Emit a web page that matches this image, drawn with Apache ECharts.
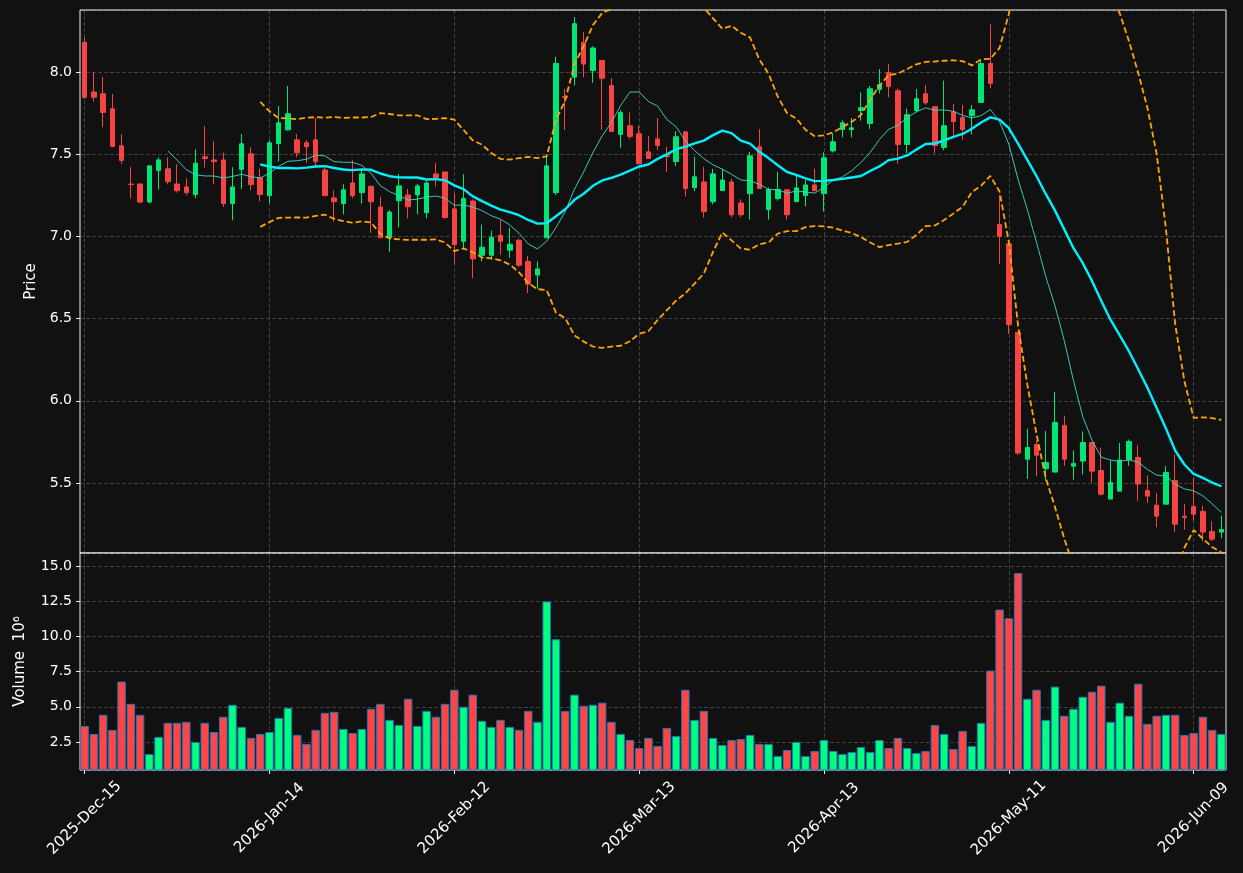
<!DOCTYPE html>
<html>
<head>
<meta charset="utf-8">
<title>K线图</title>
<script src="https://cdn.jsdelivr.net/npm/echarts@6.0.0/dist/echarts.min.js"></script>
<style>
  html, body { margin: 0; padding: 0; background: #111111; }
  #chart { width: 1243px; height: 873px; }
</style>
</head>
<body>
<div id="chart"></div>
<script>
// 交易日（跳过周末和休市日）
const startDay = "2025-12-15";
const holidays = ["2025-12-25", "2026-01-01", "2026-01-19", "2026-02-16", "2026-04-03", "2026-05-25"];
const monthNames = ["Jan", "Feb", "Mar", "Apr", "May", "Jun", "Jul", "Aug", "Sep", "Oct", "Nov", "Dec"];

// OHLC 数据
const opens = [
  8.180, 7.878, 7.868, 7.776, 7.551, 7.318, 7.319, 7.209, 7.400, 7.411,
  7.319, 7.301, 7.254, 7.484, 7.465, 7.465, 7.199, 7.407, 7.502, 7.356,
  7.248, 7.565, 7.648, 7.587, 7.569, 7.587, 7.404, 7.234, 7.199, 7.325,
  7.266, 7.305, 7.179, 6.992, 7.217, 7.252, 7.252, 7.144, 7.380, 7.392,
  7.167, 6.970, 7.215, 6.885, 6.885, 7.007, 6.916, 6.976, 6.848, 6.765,
  6.991, 7.266, 7.850, 7.968, 8.180, 8.009, 8.070, 7.918, 7.620, 7.673,
  7.624, 7.514, 7.593, 7.490, 7.455, 7.636, 7.297, 7.331, 7.211, 7.278,
  7.331, 7.203, 7.260, 7.545, 7.163, 7.230, 7.283, 7.211, 7.248, 7.313,
  7.260, 7.520, 7.650, 7.650, 7.766, 7.687, 7.894, 7.996, 7.886, 7.559,
  7.766, 7.868, 7.789, 7.541, 7.758, 7.722, 7.734, 7.815, 8.051, 7.072,
  6.955, 6.416, 5.645, 5.734, 5.586, 5.566, 5.850, 5.602, 5.633, 5.746,
  5.576, 5.402, 5.450, 5.641, 5.655, 5.454, 5.365, 5.371, 5.515, 5.298,
  5.357, 5.327, 5.205, 5.201
];
const highs = [
  8.210, 8.000, 7.970, 7.866, 7.622, 7.423, 7.319, 7.429, 7.480, 7.480,
  7.439, 7.354, 7.530, 7.671, 7.579, 7.510, 7.421, 7.622, 7.543, 7.411,
  7.585, 7.793, 7.915, 7.622, 7.587, 7.720, 7.419, 7.280, 7.317, 7.463,
  7.409, 7.305, 7.240, 7.161, 7.380, 7.289, 7.319, 7.337, 7.447, 7.392,
  7.263, 7.378, 7.225, 7.072, 7.035, 7.103, 7.052, 6.987, 6.882, 6.848,
  7.500, 8.093, 7.897, 8.335, 8.243, 8.156, 8.070, 7.962, 7.769, 7.753,
  7.673, 7.612, 7.720, 7.545, 7.640, 7.636, 7.484, 7.423, 7.411, 7.411,
  7.350, 7.226, 7.514, 7.652, 7.297, 7.392, 7.285, 7.370, 7.343, 7.411,
  7.512, 7.626, 7.707, 7.720, 7.876, 7.915, 8.018, 8.049, 7.900, 7.778,
  7.896, 7.921, 7.789, 7.947, 7.807, 7.799, 7.799, 8.069, 8.290, 7.250,
  6.975, 6.416, 5.830, 5.759, 5.817, 6.055, 5.909, 5.698, 5.813, 5.746,
  5.714, 5.639, 5.744, 5.765, 5.732, 5.546, 5.440, 5.604, 5.673, 5.373,
  5.533, 5.361, 5.266, 5.300
];
const lows = [
  7.835, 7.821, 7.665, 7.545, 7.439, 7.232, 7.201, 7.201, 7.285, 7.317,
  7.266, 7.250, 7.232, 7.419, 7.317, 7.179, 7.098, 7.287, 7.280, 7.213,
  7.201, 7.455, 7.644, 7.482, 7.447, 7.419, 7.248, 7.089, 7.134, 7.232,
  7.199, 7.022, 6.992, 6.906, 7.055, 7.110, 7.134, 7.110, 7.303, 7.110,
  6.836, 6.920, 6.746, 6.848, 6.858, 6.889, 6.870, 6.812, 6.655, 6.681,
  6.991, 7.252, 7.647, 7.918, 7.968, 7.934, 7.647, 7.638, 7.539, 7.592,
  7.439, 7.474, 7.524, 7.392, 7.427, 7.242, 7.276, 7.114, 7.195, 7.278,
  7.114, 7.114, 7.102, 7.291, 7.102, 7.217, 7.102, 7.211, 7.183, 7.278,
  7.152, 7.510, 7.602, 7.602, 7.703, 7.652, 7.870, 7.846, 7.443, 7.506,
  7.754, 7.801, 7.504, 7.524, 7.612, 7.587, 7.620, 7.815, 7.900, 6.833,
  6.407, 5.671, 5.525, 5.540, 5.515, 5.566, 5.604, 5.519, 5.552, 5.503,
  5.422, 5.402, 5.450, 5.604, 5.391, 5.379, 5.231, 5.371, 5.201, 5.216,
  5.268, 5.146, 5.146, 5.164
];
const closes = [
  7.846, 7.846, 7.754, 7.547, 7.461, 7.316, 7.209, 7.429, 7.465, 7.333,
  7.278, 7.266, 7.445, 7.474, 7.455, 7.199, 7.301, 7.563, 7.315, 7.254,
  7.569, 7.691, 7.746, 7.508, 7.545, 7.455, 7.248, 7.211, 7.283, 7.248,
  7.380, 7.211, 6.992, 7.148, 7.307, 7.180, 7.307, 7.325, 7.358, 7.114,
  6.950, 7.231, 6.863, 6.934, 6.995, 6.970, 6.952, 6.825, 6.709, 6.802,
  7.429, 8.052, 7.845, 8.294, 8.048, 8.146, 7.962, 7.638, 7.753, 7.608,
  7.441, 7.474, 7.553, 7.486, 7.606, 7.291, 7.362, 7.150, 7.380, 7.343,
  7.132, 7.132, 7.490, 7.291, 7.285, 7.285, 7.132, 7.295, 7.313, 7.278,
  7.478, 7.575, 7.691, 7.660, 7.783, 7.898, 7.923, 7.911, 7.559, 7.740,
  7.837, 7.813, 7.553, 7.673, 7.699, 7.650, 7.770, 8.051, 7.931, 6.999,
  6.463, 5.682, 5.716, 5.669, 5.625, 5.868, 5.645, 5.619, 5.746, 5.572,
  5.432, 5.503, 5.639, 5.753, 5.493, 5.420, 5.298, 5.564, 5.249, 5.290,
  5.310, 5.201, 5.158, 5.217
];
// 成交量（百万）
const volumes = [
  3.64, 3.07, 4.43, 3.36, 6.79, 5.21, 4.43, 1.64, 2.86, 3.86,
  3.86, 3.93, 2.50, 3.86, 3.21, 4.29, 5.14, 3.57, 2.79, 3.07,
  3.21, 4.21, 4.93, 3.00, 2.36, 3.36, 4.57, 4.64, 3.43, 3.14,
  3.43, 4.86, 5.21, 4.07, 3.71, 5.57, 3.64, 4.71, 4.29, 5.21,
  6.21, 5.00, 5.86, 4.00, 3.57, 4.07, 3.57, 3.36, 4.71, 3.93,
  12.48, 9.79, 4.71, 5.86, 5.07, 5.14, 5.29, 3.93, 3.07, 2.64,
  2.07, 2.79, 2.21, 3.50, 2.93, 6.21, 4.07, 4.71, 2.79, 2.29,
  2.64, 2.71, 3.00, 2.36, 2.36, 1.50, 1.93, 2.50, 1.50, 1.86,
  2.64, 1.86, 1.64, 1.79, 2.14, 1.79, 2.64, 2.07, 2.79, 2.07,
  1.71, 1.86, 3.71, 3.07, 2.00, 3.29, 2.21, 3.86, 7.57, 11.90,
  11.29, 14.50, 5.57, 6.21, 4.07, 6.43, 4.36, 4.86, 5.71, 6.07,
  6.50, 3.93, 5.29, 4.36, 6.64, 3.79, 4.36, 4.43, 4.43, 3.00,
  3.14, 4.29, 3.36, 3.07
];

const upColor = "#00e676";
const downColor = "#f44444";
const volUpColor = "#00ff80";
const volDownColor = "#ff4545";

// 生成日期标签
const dates = [];
{
  const d = new Date(startDay + "T00:00:00Z");
  while (dates.length < closes.length) {
    const iso = d.toISOString().slice(0, 10);
    const wd = d.getUTCDay();
    if (wd !== 0 && wd !== 6 && !holidays.includes(iso)) {
      dates.push(`${d.getUTCFullYear()}-${monthNames[d.getUTCMonth()]}-${iso.slice(8, 10)}`);
    }
    d.setUTCDate(d.getUTCDate() + 1);
  }
}

// 均线与布林带
function calcMA(n) {
  return closes.map((_, i) => {
    if (i < n - 1) return "-";
    let s = 0;
    for (let k = i - n + 1; k <= i; k++) s += closes[k];
    return +(s / n).toFixed(4);
  });
}
function calcBand(n, mult, sign) {
  return closes.map((_, i) => {
    if (i < n - 1) return "-";
    let s = 0;
    for (let k = i - n + 1; k <= i; k++) s += closes[k];
    const m = s / n;
    let v = 0;
    for (let k = i - n + 1; k <= i; k++) v += (closes[k] - m) ** 2;
    return +(m + sign * mult * Math.sqrt(v / n)).toFixed(4);
  });
}

const candleData = opens.map((o, i) => [o, closes[i], lows[i], highs[i]]);
const volData = volumes.map((v, i) => ({
  value: v,
  itemStyle: { color: closes[i] >= opens[i] ? volUpColor : volDownColor },
}));

const font = "DejaVu Sans";
const gridLine = {
  show: true,
  lineStyle: { color: "rgba(255,255,255,0.2)", type: [4, 2], width: 1 },
};

const option = {
  backgroundColor: "#111111",
  animation: false,
  textStyle: { fontFamily: font },
  grid: [
    { left: 80, right: 17, top: 10, height: 543, show: true, backgroundColor: "#111111",
      borderColor: "#f0f0f0", borderWidth: 1, containLabel: false, outerBoundsMode: "none" },
    { left: 80, right: 17, top: 553, height: 217, show: true, backgroundColor: "#111111",
      borderColor: "#f0f0f0", borderWidth: 1, containLabel: false, outerBoundsMode: "none" },
  ],
  xAxis: [
    {
      type: "category", gridIndex: 0, data: dates, boundaryGap: true,
      axisLine: { show: false }, axisTick: { show: false }, axisLabel: { show: false },
      splitLine: { ...gridLine, interval: 19, alignWithLabel: true },
    },
    {
      type: "category", gridIndex: 1, data: dates, boundaryGap: true,
      axisLine: { show: false },
      axisTick: { show: true, interval: 19, alignWithLabel: true, length: 4, lineStyle: { color: "#f0f0f0" } },
      axisLabel: {
        interval: 19, rotate: 45, align: "center", verticalAlign: "middle", margin: 48,
        color: "#ffffff", fontSize: 15, fontFamily: font, hideOverlap: false,
      },
      splitLine: { ...gridLine, interval: 19, alignWithLabel: true },
    },
  ],
  yAxis: [
    {
      type: "value", gridIndex: 0, min: 5.074, max: 8.377,
      minInterval: 0.5, maxInterval: 0.5, splitNumber: 6, scale: true,
      name: "Price", nameLocation: "middle", nameGap: 39,
      nameTextStyle: { color: "#ffffff", fontSize: 15, fontFamily: font },
      axisLine: { show: false },
      axisTick: { show: true, length: 4, lineStyle: { color: "#f0f0f0" } },
      axisLabel: {
        color: "#ffffff", fontSize: 14, fontFamily: font, margin: 8,
        showMinLabel: false, showMaxLabel: false,
        formatter: (v) => v.toFixed(1),
      },
      splitLine: gridLine,
    },
    {
      type: "value", gridIndex: 1, min: 0.51, max: 15.92,
      minInterval: 2.5, maxInterval: 2.5, splitNumber: 6,
      name: "Volume  10⁶", nameLocation: "middle", nameGap: 52,
      nameTextStyle: { color: "#ffffff", fontSize: 15, fontFamily: font },
      axisLine: { show: false },
      axisTick: { show: true, length: 4, lineStyle: { color: "#f0f0f0" } },
      axisLabel: {
        color: "#ffffff", fontSize: 14, fontFamily: font, margin: 8,
        showMinLabel: false, showMaxLabel: false,
        formatter: (v) => v.toFixed(1),
      },
      splitLine: gridLine,
    },
  ],
  series: [
    {
      name: "K", type: "candlestick", xAxisIndex: 0, yAxisIndex: 0,
      data: candleData, barWidth: 5,
      itemStyle: {
        color: upColor, color0: downColor,
        borderColor: upColor, borderColor0: downColor, borderWidth: 1,
      },
      z: 2,
    },
    {
      name: "MA20", type: "line", xAxisIndex: 0, yAxisIndex: 0, data: calcMA(20),
      showSymbol: false, symbol: "none", lineStyle: { color: "#00f0ff", width: 2.4 }, z: 4,
    },
    {
      name: "MA10", type: "line", xAxisIndex: 0, yAxisIndex: 0, data: calcMA(10),
      showSymbol: false, symbol: "none", lineStyle: { color: "#40d8c8", width: 1, opacity: 0.9 }, z: 4,
    },
    {
      name: "BB上轨", type: "line", xAxisIndex: 0, yAxisIndex: 0, data: calcBand(20, 2, 1),
      showSymbol: false, symbol: "none", clip: true,
      lineStyle: { color: "#ffa500", width: 1.8, type: [6, 3] }, z: 3,
    },
    {
      name: "BB下轨", type: "line", xAxisIndex: 0, yAxisIndex: 0, data: calcBand(20, 2, -1),
      showSymbol: false, symbol: "none", clip: true,
      lineStyle: { color: "#ffa500", width: 1.8, type: [6, 3] }, z: 3,
    },
    {
      name: "Volume", type: "bar", xAxisIndex: 1, yAxisIndex: 1, data: volData,
      barWidth: "92%",
      itemStyle: { borderColor: "#1f77b4", borderWidth: 1 },
    },
  ],
};

const myChart = echarts.init(document.getElementById("chart"));
myChart.setOption(option);
</script>
</body>
</html>
